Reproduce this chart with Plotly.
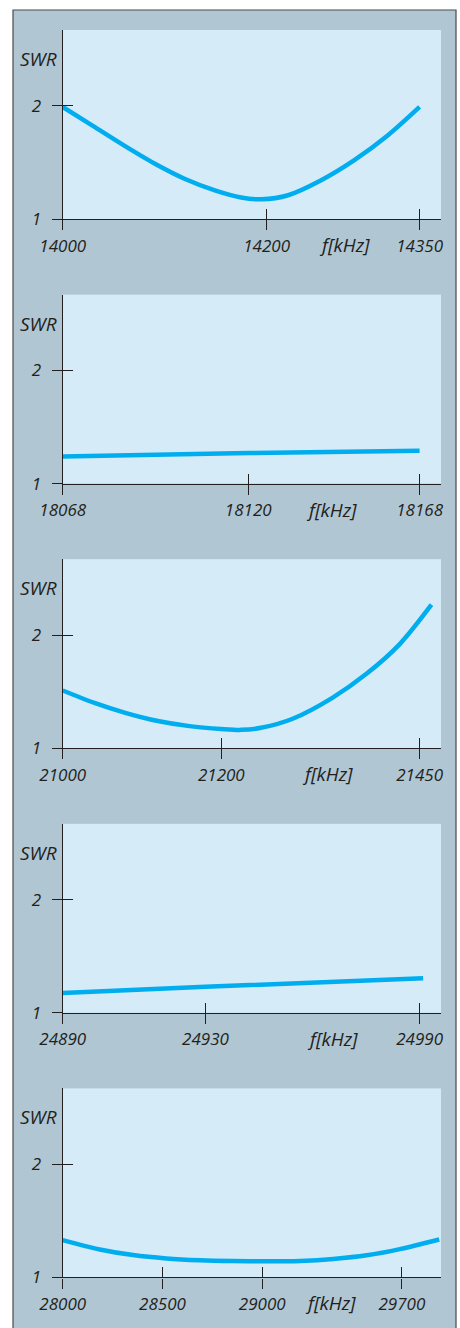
import plotly.graph_objects as go

W, H = 460, 1328

# SWR curves (kHz, SWR)
f20 = [14000, 14030, 14060, 14090, 14120, 14150, 14175, 14195, 14221, 14253, 14286, 14319, 14350]
swr20 = [1.99, 1.82, 1.65, 1.49, 1.353, 1.25, 1.19, 1.174, 1.21, 1.34, 1.52, 1.74, 1.99]
ticks20 = [14000, 14200, 14350]

f17 = [18068, 18120, 18168]
swr17 = [1.24, 1.27, 1.29]
ticks17 = [18068, 18120, 18168]

f15 = [21000, 21040, 21080, 21120, 21160, 21200, 21225, 21250, 21290, 21340, 21383, 21425, 21465]
swr15 = [1.51, 1.40, 1.31, 1.24, 1.195, 1.17, 1.162, 1.18, 1.26, 1.445, 1.657, 1.92, 2.268]
ticks15 = [21000, 21200, 21450]

f12 = [24890, 24930, 24991]
swr12 = [1.175, 1.23, 1.305]
ticks12 = [24890, 24930, 24990]

f10 = [28000, 28186, 28353, 28520, 28687, 28853, 29020, 29189, 29356, 29523, 29690, 29887]
swr10 = [1.33, 1.247, 1.197, 1.167, 1.151, 1.144, 1.142, 1.146, 1.163, 1.195, 1.25, 1.335]
ticks10 = [28000, 28500, 29000, 29700]

swr_ticks = [1, 2]

# (freqs, swr, ticks, x range end, x of the "f[kHz]" label in px)
panels = [
    (f20, swr20, ticks20, 14371, 344),
    (f17, swr17, ticks17, 18174, 331),
    (f15, swr15, ticks15, 21477, 327),
    (f12, swr12, ticks12, 24996, 332),
    (f10, swr10, ticks10, 29896, 330),
]

BOX = "#B0C6D3"
PANEL = "#D5EBF8"
CURVE = "#00AEEF"
INK = "#231F20"
FONT = dict(family="Open Sans", size=17, color=INK, style="italic")
LABEL_FONT = dict(FONT, size=19)

LEFT, RIGHT = 62.7, 441
TOP0, STEP, PH = 30, 264.6, 189


def ax_id(kind, n):
    return kind if n == 1 else f"{kind}{n}"


def ax_key(kind, n):
    return f"{kind}axis" if n == 1 else f"{kind}axis{n}"


fig = go.Figure()
layout = {}
annotations = []

for i, (fx, fy, ticks, xmax, fk_x) in enumerate(panels):
    n = i + 1
    top = TOP0 + STEP * i
    bottom = top + PH
    ydom = [(H - bottom) / H, (H - top) / H]
    xdom = [LEFT / W, RIGHT / W]

    fig.add_trace(go.Scatter(
        x=fx, y=fy, xaxis=ax_id("x", n), yaxis=ax_id("y", n),
        mode="lines", line=dict(color=CURVE, width=4.5, shape="spline", smoothing=0.85),
        hoverinfo="skip", showlegend=False))
    # invisible copy so the overlay axes (inner tick halves) get drawn
    fig.add_trace(go.Scatter(
        x=fx, y=fy, xaxis=ax_id("x", n + 5), yaxis=ax_id("y", n + 5),
        mode="lines", line=dict(width=0), opacity=0,
        hoverinfo="skip", showlegend=False))

    common_x = dict(range=[fx[0], xmax], domain=xdom, tickmode="array",
                    tickvals=ticks, ticklen=10, tickwidth=1.3, tickcolor=INK,
                    showgrid=False, zeroline=False, fixedrange=True,
                    automargin=False)
    common_y = dict(range=[1, 2.67], domain=ydom, tickmode="array",
                    tickvals=swr_ticks, ticklen=10, tickwidth=1.3, tickcolor=INK,
                    showgrid=False, zeroline=False, fixedrange=True,
                    automargin=False)

    layout[ax_key("x", n)] = dict(common_x, anchor=ax_id("y", n), ticks="outside",
                                  showline=True, linecolor=INK, linewidth=1.3,
                                  tickfont=FONT, ticklabelstandoff=1,
                                  tickformat="d")
    layout[ax_key("y", n)] = dict(common_y, anchor=ax_id("x", n), ticks="outside",
                                  showline=True, linecolor=INK, linewidth=1.3,
                                  tickfont=FONT, ticklabelstandoff=7)
    # second set of ticks pointing inwards, so the ticks cross the axis lines
    layout[ax_key("x", n + 5)] = dict(common_x, anchor=ax_id("y", n),
                                      overlaying=ax_id("x", n), ticks="inside",
                                      showline=False, showticklabels=False)
    layout[ax_key("y", n + 5)] = dict(common_y, anchor=ax_id("x", n),
                                      overlaying=ax_id("y", n), ticks="inside",
                                      showline=False, showticklabels=False)

    annotations.append(dict(text="SWR", x=38 / W, xref="paper",
                            y=(H - top - 29) / H, yref="paper", showarrow=False,
                            font=LABEL_FONT, xanchor="center", yanchor="middle"))
    annotations.append(dict(text="f[kHz]", x=fk_x / W, xref="paper",
                            y=(H - bottom - 26) / H, yref="paper", showarrow=False,
                            font=LABEL_FONT, xanchor="center", yanchor="middle"))

# white margins round the grey-blue box, and its outline
shapes = [
    dict(type="rect", xref="paper", yref="paper", x0=0, x1=13 / W, y0=0, y1=1,
         fillcolor="white", line_width=0, layer="below"),
    dict(type="rect", xref="paper", yref="paper", x0=456 / W, x1=1, y0=0, y1=1,
         fillcolor="white", line_width=0, layer="below"),
    dict(type="rect", xref="paper", yref="paper", x0=0, x1=1, y0=1 - 10 / H, y1=1,
         fillcolor="white", line_width=0, layer="below"),
    dict(type="rect", xref="paper", yref="paper", x0=13 / W, x1=456 / W,
         y0=-0.01, y1=1 - 10 / H, line=dict(color="#4a4a4a", width=1.2)),
]

fig.update_layout(
    template="none",
    width=W, height=H,
    margin=dict(l=0, r=0, t=0, b=0, pad=0, autoexpand=False),
    paper_bgcolor=BOX, plot_bgcolor=PANEL,
    showlegend=False,
    annotations=annotations,
    shapes=shapes,
    **layout,
)

fig.write_html("out.html",
               config={"displayModeBar": False},
               post_script="document.body.style.margin='0';"
                           "document.body.style.overflow='hidden';")
